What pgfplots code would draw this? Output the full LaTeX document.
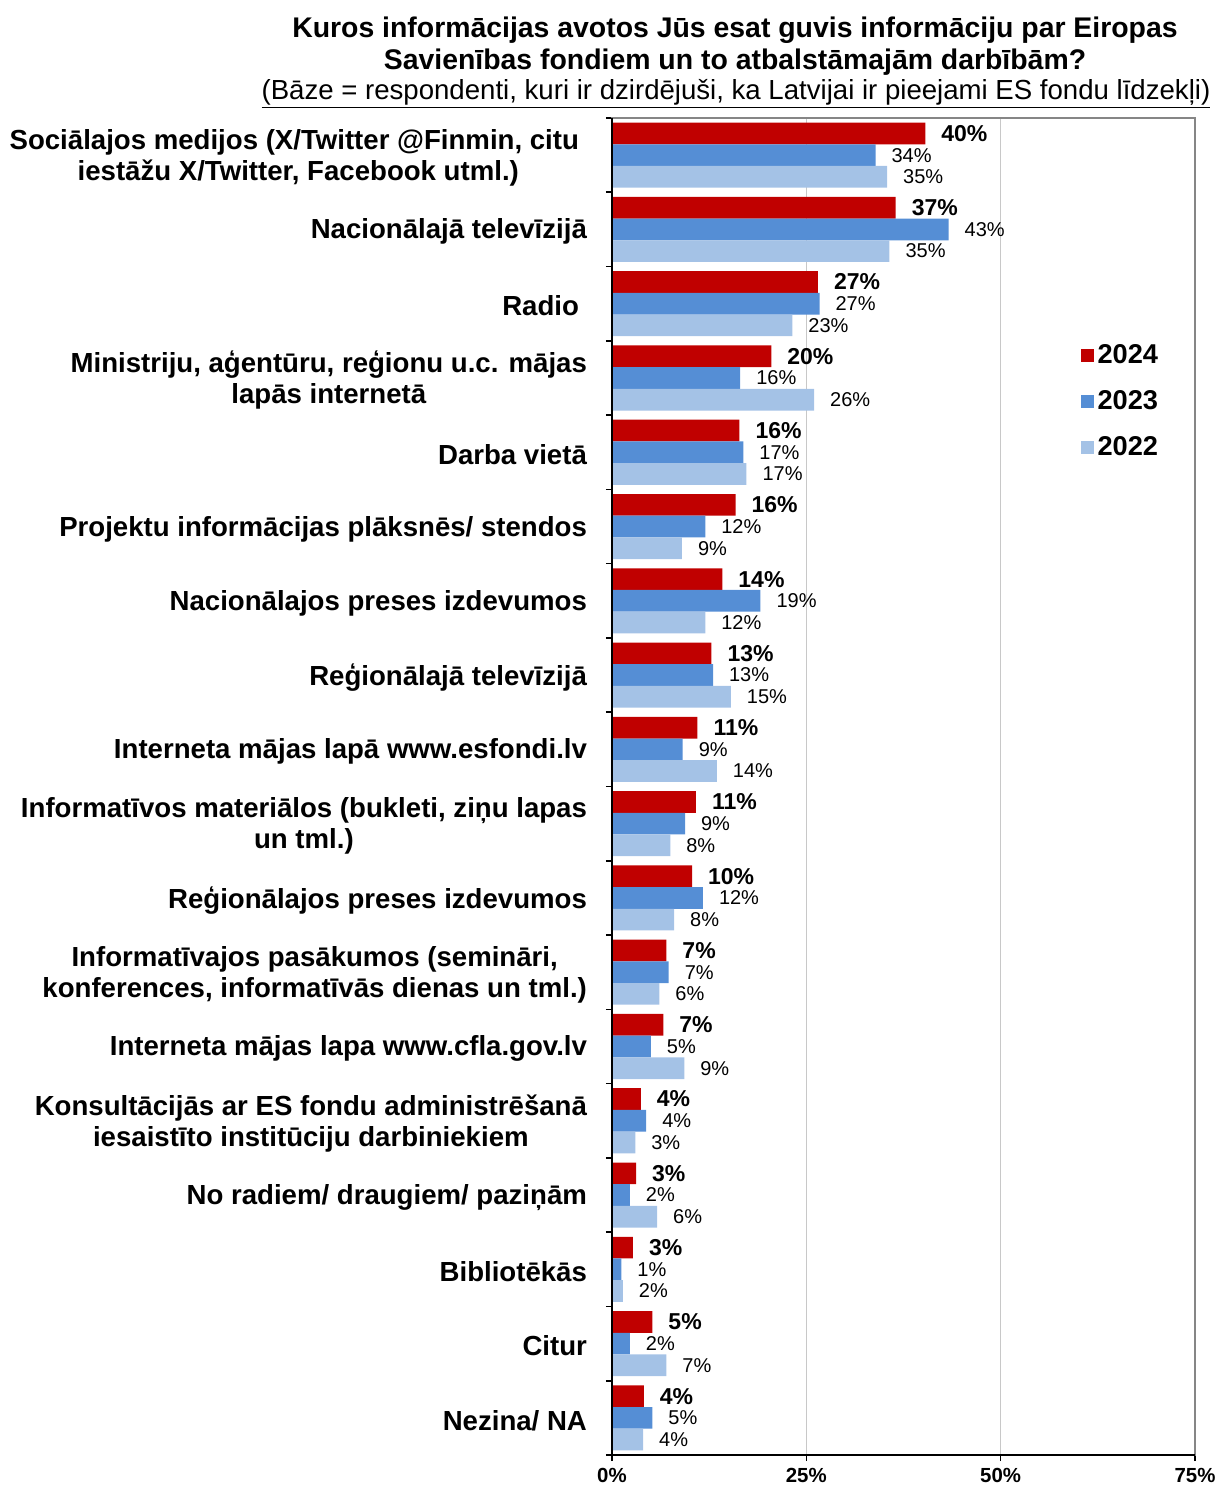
\documentclass[border=0pt]{standalone}
\usepackage{pgfplots}
\pgfplotsset{compat=1.18}
\usepackage{pgfplotstable}
\usepackage{fontspec}
\setmainfont{Liberation Sans}
\definecolor{c24}{RGB}{192,0,0}
\definecolor{c23}{RGB}{85,142,213}
\definecolor{c22}{RGB}{164,194,230}
\definecolor{gridc}{RGB}{200,200,200}
\definecolor{framec}{RGB}{134,134,134}

\pgfplotstableread{
y r rl b bl l ll
0 40.3 40 33.9 34 35.4 35
1 36.5 37 43.3 43 35.7 35
2 26.5 27 26.7 27 23.2 23
3 20.5 20 16.5 16 26.0 26
4 16.4 16 16.9 17 17.3 17
5 15.9 16 12.0 12 9.0 9
6 14.2 14 19.1 19 12.0 12
7 12.8 13 13.0 13 15.3 15
8 11.0 11 9.1 9 13.5 14
9 10.8 11 9.4 9 7.5 8
10 10.3 10 11.7 12 8.0 8
11 7.0 7 7.3 7 6.1 6
12 6.6 7 5.0 5 9.3 9
13 3.7 4 4.4 4 3.0 3
14 3.1 3 2.3 2 5.8 6
15 2.7 3 1.2 1 1.4 2
16 5.2 5 2.3 2 7.0 7
17 4.1 4 5.2 5 4.0 4
}\data

\begin{document}
\begin{tikzpicture}[x=1pt,y=1pt]
\useasboundingbox (-306,-16.5) rectangle (303,727.5);
\begin{axis}[
 at={(0,0)}, anchor=south west,
 scale only axis, width=291.5pt, height=668.5pt,
 xbar, bar width=0.292,
 xmin=0, xmax=75, ymin=-0.5, ymax=17.5, y dir=reverse,
 clip=false,
 xtick={0,25,50,75}, xticklabels={0\%,25\%,50\%,75\%},
 xticklabel style={font=\bfseries\fontsize{10.2}{12}\selectfont},
 xmajorgrids, grid style={gridc, line width=0.6pt},
 ytick={0,...,17},
 minor ytick={-0.5,0.5,...,17.5},
 every major y tick/.style={draw=none},
 tick align=outside, tick pos=left,
 major tick length=3pt, minor tick length=3pt,
 tick style={black, line width=0.8pt},
 axis line style={framec, line width=0.9pt},
 yticklabel style={align=center, font=\bfseries\fontsize{13.8}{15.5}\selectfont, xshift=-6pt, yshift=-1.2pt},
 yticklabels={
  {Sociālajos medijos (X/Twitter @Finmin, citu\kern4pt\\iestāžu X/Twitter, Facebook utml.)},
  {Nacionālajā televīzijā},
  {Radio\kern4pt},
  {Ministriju, aģentūru, reģionu u.c. mājas\\lapās internetā},
  {Darba vietā},
  {Projektu informācijas plāksnēs/ stendos},
  {Nacionālajos preses izdevumos},
  {Reģionālajā televīzijā},
  {Interneta mājas lapā www.esfondi.lv},
  {Informatīvos materiālos (bukleti, ziņu lapas\\un tml.)},
  {Reģionālajos preses izdevumos},
  {Informatīvajos pasākumos (semināri,\\konferences, informatīvās dienas un tml.)},
  {Interneta mājas lapa www.cfla.gov.lv},
  {Konsultācijās ar ES fondu administrēšanā\\iesaistīto institūciju darbiniekiem},
  {No radiem/ draugiem/ paziņām},
  {Bibliotēkās},
  {Citur},
  {Nezina/ NA}},
 legend style={at={(rel axis cs:0.803,0.834)}, anchor=north west, draw=none, fill=none,
   font=\bfseries\fontsize{13.6}{15}\selectfont, row sep=8pt, inner sep=0pt},
 legend cell align=left,
 legend image code/.code={\fill[#1] (0pt,-3.25pt) rectangle (6.5pt,3.25pt);},
]
\addplot[fill=c24, draw=none, bar shift=-0.292, point meta=explicit symbolic,
  nodes near coords={\pgfplotspointmeta\%},
  every node near coord/.append style={font=\bfseries\fontsize{11.5}{13}\selectfont, black, anchor=west, xshift=4.5pt}]
  table[x=r, y=y, meta=rl] {\data};
\addplot[fill=c23, draw=none, bar shift=0, point meta=explicit symbolic,
  nodes near coords={\pgfplotspointmeta\%},
  every node near coord/.append style={font=\fontsize{10}{12}\selectfont, black, anchor=west, xshift=4.5pt}]
  table[x=b, y=y, meta=bl] {\data};
\addplot[fill=c22, draw=none, bar shift=0.292, point meta=explicit symbolic,
  nodes near coords={\pgfplotspointmeta\%},
  every node near coord/.append style={font=\fontsize{10}{12}\selectfont, black, anchor=west, xshift=4.5pt}]
  table[x=l, y=y, meta=ll] {\data};
\legend{2024,2023,2022}
\draw[black, line width=1pt] (rel axis cs:0,1) -- (rel axis cs:0,0) -- (rel axis cs:1,0);
\end{axis}
\node[font=\bfseries\fontsize{14.2}{16}\selectfont, align=center] at (61.5,704.5)
 {Kuros informācijas avotos Jūs esat guvis informāciju par Eiropas\\Savienības fondiem un to atbalstāmajām darbībām?};
\node[font=\fontsize{13.8}{15}\selectfont] at (62,680.5)
 {\underline{(Bāze = respondenti, kuri ir dzirdējuši, ka Latvijai ir pieejami ES fondu līdzekļi)}};
\end{tikzpicture}
\end{document}
